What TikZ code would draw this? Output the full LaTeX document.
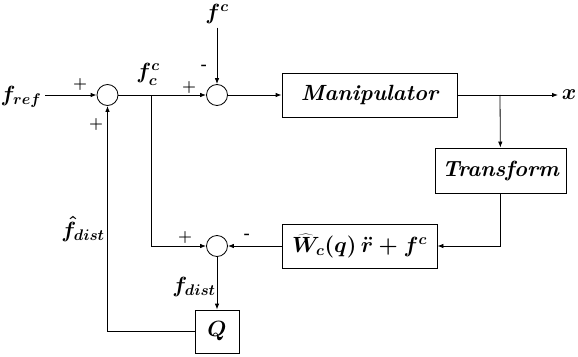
\documentclass[tikz,border=0pt]{standalone}
\usepackage{fix-cm}
\usepackage{fontspec}
\usetikzlibrary{arrows.meta}
\begin{document}
\begin{tikzpicture}[x=1pt,y=-1pt,line width=0.8pt,
    >={Latex[length=6pt,width=4.5pt]},
    font=\fontsize{22}{25}\selectfont\bfseries\itshape\boldmath,
    sum/.style={circle,draw,minimum size=21pt,inner sep=0pt},
    block/.style={draw,minimum height=44pt,inner sep=2pt},
    sign/.style={font=\fontsize{16}{16}\selectfont\bfseries\boldmath}]
    \useasboundingbox (0,0) rectangle (578,356);
    % summing junctions
    \node[sum] (s1) at (107.5,95) {};
    \node[sum] (s2) at (217,95) {};
    \node[sum] (s3) at (217,246) {};
    % blocks
    \node[block,minimum width=175pt] (man) at (369.5,95) {Manipulator};
    \node[block,minimum width=131pt,minimum height=45pt] (tr) at (500.5,170.5) {Transform};
    \node[block,minimum width=155pt] (wc) at (359.5,246) {$\widehat{W}_c(q)\,\ddot{r}+f^c$};
    \node[block,minimum width=44pt,minimum height=43pt] (q) at (217,331.5) {$Q$};
    % signals
    \node (fref) at (21,97) {$f_{ref}$};
    \node (fc) at (217,14) {$f^c$};
    \node (x) at (569,95) {$x$};
    \coordinate (j1) at (151,95);
    \coordinate (j2) at (500,95);
    \draw[->] (fref.east |- s1) -- (s1);
    \draw[->] (s1) -- (s2);
    \draw[->] (fc) -- (s2);
    \draw[->] (s2) -- (man);
    \draw[->] (man) -- (x);
    \draw[->] (j2) -- (tr);
    \draw[->] (tr.south) |- (wc.east);
    \draw[->] (j1) |- (s3);
    \draw[->] (wc) -- (s3);
    \draw[->] (s3) -- (q);
    \draw[->] (q.west) -| (s1.south);
    % labels
    \node (fcc) at (148,74) {$f_c^c$};
    \node (fdist) at (194,287) {$f_{dist}$};
    \node (fhat) at (83,229) {$\hat{f}_{dist}$};
    \node[sign] (p1) at (80,84) {$+$};
    \node[sign] (p2) at (96,124) {$+$};
    \node[sign] (p3) at (189,87) {$+$};
    \node[sign] (m1) at (204,67) {-};
    \node[sign] (p4) at (185,237) {$+$};
    \node[sign] (m2) at (247,236) {-};
\end{tikzpicture}
\end{document}
